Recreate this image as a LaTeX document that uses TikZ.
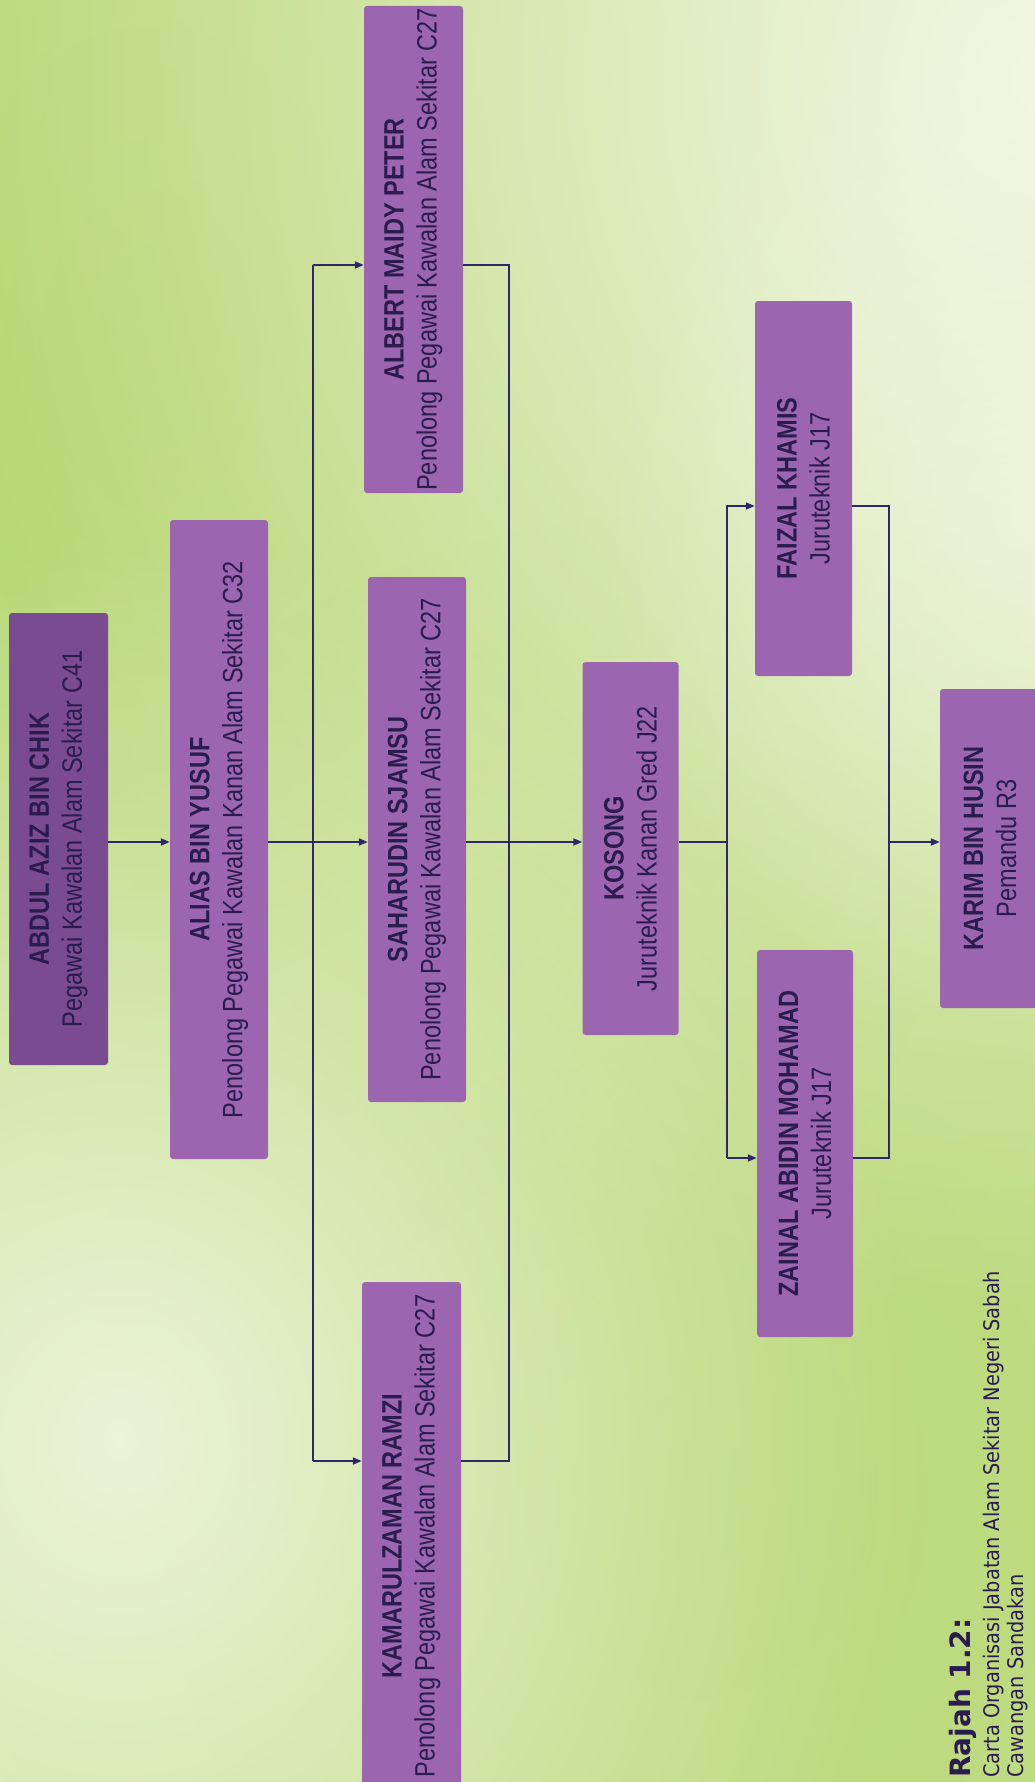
\documentclass[tikz,border=0pt]{standalone}
\usepackage{fontspec}
\newfontfamily\narrow[FakeStretch=0.84]{Liberation Sans}
\newfontfamily\capfont{DejaVu Sans}
\newfontfamily\capnarrow[FakeStretch=0.9]{DejaVu Sans}
\usetikzlibrary{arrows.meta,fadings}
\tikzfading[name=glow, inner color=transparent!0, outer color=transparent!100]
\definecolor{bgA}{HTML}{C2DE8A}
\definecolor{bgDeep}{HTML}{B3D46A}
\definecolor{bgLight}{HTML}{F4F8E8}
\definecolor{boxc}{HTML}{9B66AF}
\definecolor{boxdark}{HTML}{7B4B91}
\definecolor{txtc}{HTML}{2B1C50}
\definecolor{linec}{HTML}{2E2868}
\tikzset{
  pbox/.style={rotate=90, fill=boxc, rounded corners=3pt, text=txtc, align=center,
    font=\narrow\fontsize{28}{33}\selectfont, inner sep=0pt},
  conn/.style={draw=linec, line width=1.8pt},
  arr/.style={conn, -{Triangle[length=9pt,width=7pt]}},
  captxt/.style={rotate=90, anchor=base west, text=txtc, inner sep=0pt},
}
\begin{document}
\begin{tikzpicture}[x=1pt,y=-1pt]
\useasboundingbox (0,0) rectangle (1035,1782);
\begin{scope}
\clip (0,0) rectangle (1035,1782);
\fill[bgA] (0,0) rectangle (1035,1782);
\fill[bgDeep, fill opacity=0.8, path fading=glow] (150,350) ellipse [x radius=900, y radius=1300];
\fill[bgDeep, fill opacity=0.5, path fading=glow] (700,1500) ellipse [x radius=900, y radius=1000];
\fill[bgLight, fill opacity=0.95, path fading=glow] (1035,80) ellipse [x radius=1120, y radius=1240];
\fill[bgLight, fill opacity=0.85, path fading=glow] (120,1440) ellipse [x radius=800, y radius=900];
\fill[bgLight, fill opacity=0.6, path fading=glow] (1035,520) ellipse [x radius=440, y radius=520];

% boxes
\node[pbox, fill=boxdark, minimum width=452pt, minimum height=99pt] (abdul) at (58.5,839)
  {\bfseries ABDUL AZIZ BIN CHIK\\Pegawai Kawalan Alam Sekitar C41};
\node[pbox, minimum width=639pt, minimum height=98pt] (alias) at (219,839.5)
  {\bfseries ALIAS BIN YUSUF\\Penolong Pegawai Kawalan Kanan Alam Sekitar C32};
\node[pbox, minimum width=487pt, minimum height=99pt] (albert) at (413.5,249.5)
  {\bfseries ALBERT MAIDY PETER\\Penolong Pegawai Kawalan Alam Sekitar C27};
\node[pbox, minimum width=525pt, minimum height=98pt] (sahar) at (417,839.5)
  {\bfseries SAHARUDIN SJAMSU\\Penolong Pegawai Kawalan Alam Sekitar C27};
\node[pbox, minimum width=508pt, minimum height=99pt] (kamar) at (411.5,1536)
  {\bfseries KAMARULZAMAN RAMZI\\Penolong Pegawai Kawalan Alam Sekitar C27};
\node[pbox, minimum width=373pt, minimum height=96pt] (kosong) at (630.5,848.5)
  {\bfseries KOSONG\\Juruteknik Kanan Gred J22};
\node[pbox, minimum width=375pt, minimum height=97pt] (faizal) at (803.5,488.5)
  {\bfseries FAIZAL KHAMIS\\Juruteknik J17};
\node[pbox, minimum width=387pt, minimum height=96pt] (zainal) at (805,1143.5)
  {\bfseries ZAINAL ABIDIN MOHAMAD\\Juruteknik J17};
\node[pbox, minimum width=319pt, minimum height=100pt] (karim) at (990,848.5)
  {\bfseries KARIM BIN HUSIN\\Pemandu R3};

% levels and buses
\coordinate (m) at (0,842);
\coordinate (r1) at (0,265);
\coordinate (r3) at (0,1461);
\coordinate (lf) at (0,506);
\coordinate (lz) at (0,1158);
\coordinate (bus1) at (313,0);
\coordinate (bus2) at (509,0);
\coordinate (bus3) at (727,0);
\coordinate (bus4) at (889,0);

% connectors
\draw[arr] (abdul.south |- m) -- (alias.north |- m);
\draw[conn] (alias.south |- m) -- (bus1 |- m);
\draw[conn] (bus1 |- r1) -- (bus1 |- r3);
\draw[arr] (bus1 |- r1) -- (albert.north |- r1);
\draw[arr] (bus1 |- m) -- (sahar.north |- m);
\draw[arr] (bus1 |- r3) -- (kamar.north |- r3);
\draw[conn] (albert.south |- r1) -- (bus2 |- r1) -- (bus2 |- r3) -- (kamar.south |- r3);
\draw[conn] (sahar.south |- m) -- (bus2 |- m);
\draw[arr] (bus2 |- m) -- (kosong.north |- m);
\draw[conn] (kosong.south |- m) -- (bus3 |- m);
\draw[arr] (bus3 |- lz) -- (bus3 |- lf) -- (faizal.north |- lf);
\draw[arr] (bus3 |- lz) -- (zainal.north |- lz);
\draw[conn] (faizal.south |- lf) -- (bus4 |- lf) -- (bus4 |- lz) -- (zainal.south |- lz);
\draw[arr] (bus4 |- m) -- (karim.north |- m);

% caption
\node[captxt, font=\capfont\bfseries\fontsize{28}{32}\selectfont] (cap1) at (970,1778) {Rajah 1.2:};
\node[captxt, font=\capnarrow\fontsize{21.5}{24}\selectfont] (cap2) at (999,1778) {Carta Organisasi Jabatan Alam Sekitar Negeri Sabah};
\node[captxt, font=\capnarrow\fontsize{21.5}{24}\selectfont] (cap3) at (1023,1778) {Cawangan Sandakan};
\end{scope}
\end{tikzpicture}
\end{document}
